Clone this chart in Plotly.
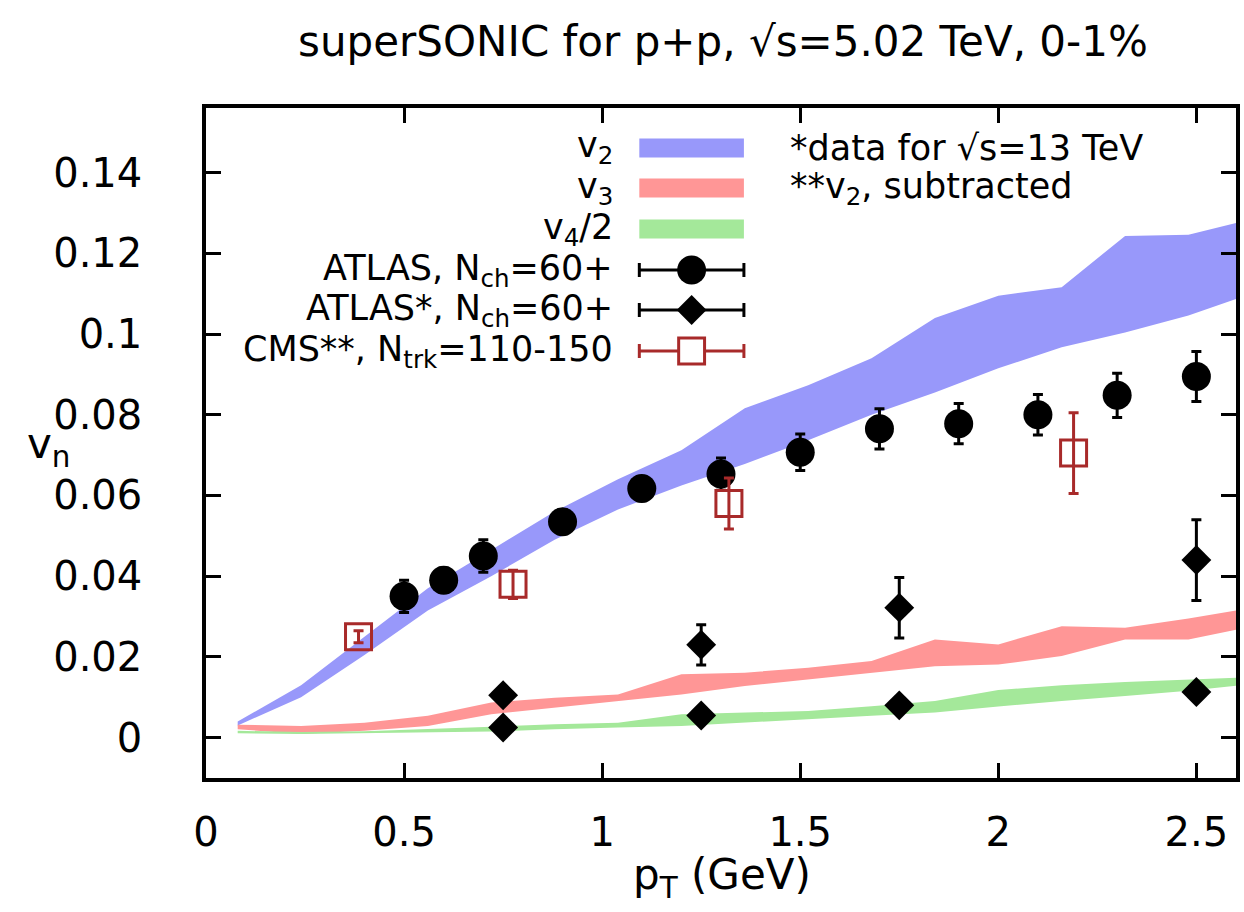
import plotly.graph_objects as go

# ---------------- data ----------------
pt_band = [0.08, 0.24, 0.40, 0.56, 0.72, 0.88, 1.04, 1.20, 1.36, 1.52, 1.68, 1.84, 2.00, 2.16, 2.32, 2.48, 2.64]
v2_lo = [0.0030, 0.0100, 0.0205, 0.0315, 0.0400, 0.0490, 0.0565, 0.0625, 0.0678, 0.0737, 0.0800, 0.0855, 0.0915, 0.0967, 0.1004, 0.1046, 0.1100]
v2_hi = [0.0040, 0.0130, 0.0250, 0.0370, 0.0465, 0.0560, 0.0640, 0.0712, 0.0816, 0.0873, 0.0940, 0.1040, 0.1095, 0.1116, 0.1243, 0.1246, 0.1285]
v3_lo = [0.0021, 0.0009, 0.0017, 0.0029, 0.0058, 0.0075, 0.0091, 0.0107, 0.0128, 0.0144, 0.0161, 0.0177, 0.0181, 0.0202, 0.0243, 0.0243, 0.0275]
v3_hi = [0.0032, 0.0029, 0.0037, 0.0054, 0.0087, 0.0099, 0.0107, 0.0157, 0.0161, 0.0173, 0.0190, 0.0243, 0.0231, 0.0276, 0.0272, 0.0295, 0.0322]
v4h_lo = [0.0011, 0.0009, 0.0010, 0.0013, 0.0015, 0.0021, 0.0025, 0.0029, 0.0037, 0.0046, 0.0054, 0.0062, 0.0077, 0.0091, 0.0103, 0.0116, 0.0133]
v4h_hi = [0.0017, 0.0014, 0.0016, 0.0021, 0.0027, 0.0033, 0.0037, 0.0058, 0.0062, 0.0066, 0.0078, 0.0091, 0.0118, 0.0130, 0.0138, 0.0144, 0.0150]

atlas_pt = [0.5, 0.6, 0.7, 0.9, 1.1, 1.3, 1.5, 1.7, 1.9, 2.1, 2.3, 2.5]
atlas_v2 = [0.0350, 0.0390, 0.0450, 0.0535, 0.0617, 0.0653, 0.0707, 0.0765, 0.0778, 0.0800, 0.0848, 0.0895]
atlas_err = [0.004, 0.003, 0.004, 0.003, 0.003, 0.004, 0.0045, 0.005, 0.005, 0.005, 0.0055, 0.0062]

atlas13_pt = [0.75, 1.25, 1.75, 2.5]
atlas13_v3 = [0.0105, 0.0230, 0.0322, 0.0440]
atlas13_v3_err = [0.002, 0.005, 0.0075, 0.010]
atlas13_v4 = [0.0025, 0.0055, 0.0080, 0.0113]
atlas13_v4_err = [0.0005, 0.0005, 0.0005, 0.0005]

cms_pt = [0.385, 0.775, 1.32, 2.19]
cms_v2 = [0.0250, 0.0380, 0.0580, 0.0705]
cms_err = [0.0015, 0.0035, 0.0063, 0.0100]

x_ticks = [0, 0.5, 1, 1.5, 2, 2.5]
x_ticktext = ["0", "0.5", "1", "1.5", "2", "2.5"]
y_ticks = [0, 0.02, 0.04, 0.06, 0.08, 0.10, 0.12, 0.14]
y_ticktext = ["0", "0.02", "0.04", "0.06", "0.08", "0.1", "0.12", "0.14"]

legend_labels = ["v<sub>2</sub>", "v<sub>3</sub>", "v<sub>4</sub>/2",
                 "ATLAS, N<sub>ch</sub>=60+", "ATLAS*, N<sub>ch</sub>=60+",
                 "CMS**, N<sub>trk</sub>=110-150"]
notes = ["*data for √s=13 TeV", "**v<sub>2</sub>, subtracted"]

# ---------------- style ----------------
FONT = "DejaVu Sans"
BLUE = "rgb(152,152,250)"
RED = "rgb(255,150,150)"
GREEN = "rgb(164,232,154)"
CMSC = "rgb(168,42,42)"

FIG_W, FIG_H = 1244, 912
L, R, T, B = 206, 1240, 108, 778
W, H = R - L, B - T

fig = go.Figure()

def band(lo, hi, color):
    fig.add_trace(go.Scatter(
        x=pt_band + pt_band[::-1], y=hi + lo[::-1],
        fill="toself", fillcolor=color, mode="lines",
        line=dict(width=0, color=color), hoverinfo="skip", showlegend=False))

band(v2_lo, v2_hi, BLUE)
band(v3_lo, v3_hi, RED)
band(v4h_lo, v4h_hi, GREEN)

fig.add_trace(go.Scatter(
    x=atlas_pt, y=atlas_v2, mode="markers",
    marker=dict(symbol="circle", size=29, color="black"),
    error_y=dict(type="data", array=atlas_err, color="black", thickness=3, width=5),
    showlegend=False))

for yv, ev in [(atlas13_v3, atlas13_v3_err), (atlas13_v4, atlas13_v4_err)]:
    fig.add_trace(go.Scatter(
        x=atlas13_pt, y=yv, mode="markers",
        marker=dict(symbol="diamond", size=23, color="black"),
        error_y=dict(type="data", array=ev, color="black", thickness=3, width=5),
        showlegend=False))

fig.add_trace(go.Scatter(
    x=cms_pt, y=cms_v2, mode="markers",
    marker=dict(symbol="square-open", size=26, color=CMSC, line=dict(width=3, color=CMSC)),
    error_y=dict(type="data", array=cms_err, color=CMSC, thickness=3, width=5),
    showlegend=False))

# ---------------- custom legend (gnuplot style) ----------------
def px(xp):
    return (xp - L) / W

def py(yp):
    return (B - yp) / H

rows = [148, 188, 229, 270, 310, 351]
text_right = 617
s0, s1 = 641, 746
sc = (s0 + s1) / 2
shapes = []
annotations = []
for lab, yr in zip(legend_labels, rows):
    annotations.append(dict(x=px(text_right), y=py(yr), xref="paper", yref="paper",
                            text=lab, showarrow=False, xanchor="right", yanchor="middle",
                            font=dict(family=FONT, size=35, color="black")))
for col, yr in zip([BLUE, RED, GREEN], rows[:3]):
    shapes.append(dict(type="rect", xref="paper", yref="paper",
                       x0=px(s0), x1=px(s1), y0=py(yr + 9.5), y1=py(yr - 9.5),
                       fillcolor=col, line=dict(width=0)))
for col, yr in zip(["black", "black", CMSC], rows[3:]):
    shapes.append(dict(type="line", xref="paper", yref="paper",
                       x0=px(s0), x1=px(s1), y0=py(yr), y1=py(yr), line=dict(color=col, width=3)))
    for xe in (s0, s1):
        shapes.append(dict(type="line", xref="paper", yref="paper",
                           x0=px(xe), x1=px(xe), y0=py(yr - 7), y1=py(yr + 7),
                           line=dict(color=col, width=3)))
# circle
yr = rows[3]
shapes.append(dict(type="circle", xref="paper", yref="paper",
                   x0=px(sc - 14.5), x1=px(sc + 14.5), y0=py(yr + 14.5), y1=py(yr - 14.5),
                   fillcolor="black", line=dict(width=0)))
# diamond
yr = rows[4]
d = 15
shapes.append(dict(type="path", xref="paper", yref="paper",
                   path=f"M {px(sc - d)},{py(yr)} L {px(sc)},{py(yr - d)} L {px(sc + d)},{py(yr)} L {px(sc)},{py(yr + d)} Z",
                   fillcolor="black", line=dict(width=0)))
# open square
yr = rows[5]
q = 13
shapes.append(dict(type="rect", xref="paper", yref="paper",
                   x0=px(sc - q), x1=px(sc + q), y0=py(yr + q), y1=py(yr - q),
                   fillcolor="white", line=dict(color=CMSC, width=3)))

for note, yr in zip(notes, rows[:2]):
    annotations.append(dict(x=px(790), y=py(yr), xref="paper", yref="paper",
                            text=note, showarrow=False, xanchor="left", yanchor="middle",
                            font=dict(family=FONT, size=35, color="black")))

# axis titles
annotations.append(dict(x=px(48), y=py(446), xref="paper", yref="paper",
                        text="v<sub>n</sub>", showarrow=False, xanchor="center", yanchor="middle",
                        font=dict(family=FONT, size=42, color="black")))
annotations.append(dict(x=px(724), y=py(877), xref="paper", yref="paper",
                        text="p<sub>T</sub> (GeV)", showarrow=False, xanchor="center", yanchor="middle",
                        font=dict(family=FONT, size=42, color="black")))

axis_common = dict(showgrid=False, zeroline=False, showline=True, linecolor="black", linewidth=3.5,
                   mirror="ticks", ticks="inside", ticklen=15, tickwidth=3, tickcolor="black",
                   tickfont=dict(family=FONT, size=40, color="black"))

fig.update_layout(
    width=FIG_W, height=FIG_H,
    margin=dict(l=L, r=FIG_W - R, t=T, b=FIG_H - B),
    plot_bgcolor="white", paper_bgcolor="white",
    title=dict(text="superSONIC for p+p, √s=5.02 TeV, 0-1%", x=(L + R) / 2 / FIG_W, xanchor="center",
               y=1 - 41 / FIG_H, yanchor="middle", yref="container",
               font=dict(family=FONT, size=42, color="black")),
    xaxis=dict(range=[0, 2.6], tickvals=x_ticks, ticktext=x_ticktext, ticklabelstandoff=16, **axis_common),
    yaxis=dict(range=[-0.01, 0.156], tickvals=y_ticks, ticktext=y_ticktext, ticklabelstandoff=52, **axis_common),
    shapes=shapes, annotations=annotations, showlegend=False,
)

fig.write_html("out.html", config={"displayModeBar": False},
               post_script="document.body.style.margin='0px';")
